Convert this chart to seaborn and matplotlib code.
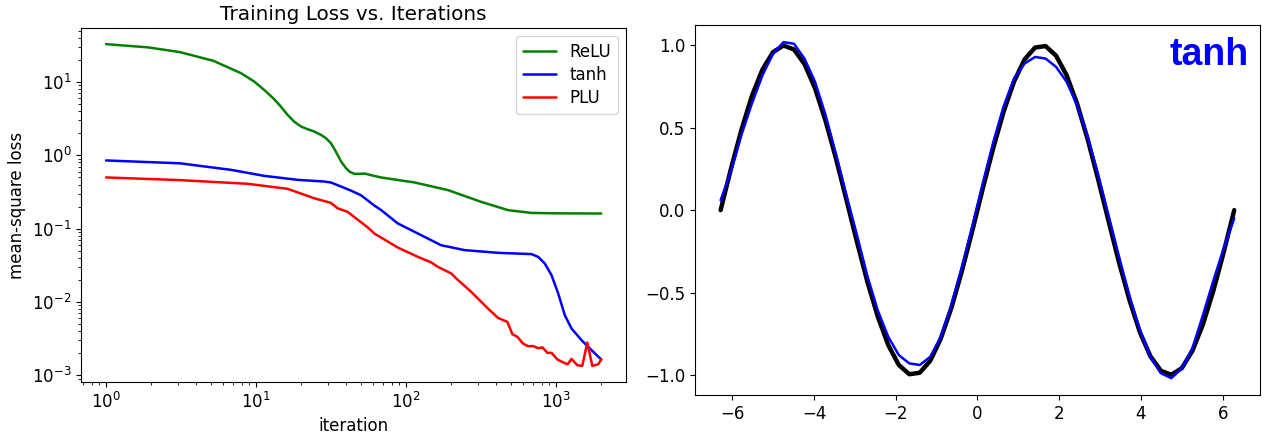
import matplotlib
matplotlib.use("Agg")
import matplotlib.pyplot as plt
from matplotlib.ticker import MultipleLocator
import seaborn as sns
import pandas as pd

# ---------------- data: training loss ----------------
relu_iter = [1, 1.9, 3.1, 5.2, 7.9, 9.7, 11.3, 13.2, 14.6, 16.2, 17.9, 19.9, 22, 24.4, 27, 29.2,
             31.5, 34, 36.8, 39.7, 42, 45.1, 49, 53, 60, 68, 114, 190, 317, 478, 685, 1000, 2000]
relu_loss = [33.0, 29.8, 25.7, 19.5, 13.3, 10.2, 7.85, 5.86, 4.65, 3.58, 2.90, 2.48, 2.28, 2.12,
             1.91, 1.72, 1.47, 1.13, 0.83, 0.67, 0.6, 0.56, 0.56, 0.565, 0.53, 0.50, 0.427, 0.336,
             0.232, 0.179, 0.164, 0.162, 0.161]

tanh_iter = [1, 3.1, 6.8, 11.3, 18.9, 28.4, 31.5, 36.8, 43, 50, 61, 68, 88, 126, 171, 245, 410, 685,
             760, 840, 932, 1033, 1143, 1267, 1479, 1726, 2000]
tanh_loss = [0.853, 0.78, 0.635, 0.526, 0.464, 0.44, 0.427, 0.376, 0.33, 0.286, 0.209, 0.18, 0.118,
             0.0815, 0.0595, 0.051, 0.0468, 0.045, 0.0412, 0.0335, 0.0232, 0.013, 0.0066, 0.00434,
             0.0030, 0.00219, 0.00164]

plu_iter = [1, 3.1, 8.75, 16.2, 24.4, 31.5, 34.9, 40.7, 46, 55.5, 61.4, 88, 120, 147, 163, 200, 216,
            272, 352, 410, 473, 511, 552, 602, 651, 703, 759, 811, 875, 932, 1021, 1104, 1192, 1267,
            1384, 1494, 1614, 1743, 1909, 2000]
plu_loss = [0.50, 0.46, 0.41, 0.35, 0.26, 0.225, 0.19, 0.17, 0.14, 0.104, 0.086, 0.0553, 0.0412,
            0.0346, 0.0301, 0.0245, 0.0209, 0.0137, 0.0081, 0.00605, 0.00535, 0.00363, 0.00334,
            0.0027, 0.00249, 0.0025, 0.00234, 0.0024, 0.00202, 0.00202, 0.00164, 0.00151, 0.00141,
            0.00167, 0.00137, 0.00134, 0.00279, 0.00134, 0.00141, 0.00164]

# ---------------- data: function fit ----------------
x_vals = [-6.283, -6.027, -5.770, -5.514, -5.257, -5.001, -4.744, -4.488, -4.232, -3.975,
          -3.719, -3.462, -3.206, -2.949, -2.693, -2.436, -2.180, -1.923, -1.667, -1.411,
          -1.154, -0.898, -0.641, -0.385, -0.128, 0.128, 0.385, 0.641, 0.898, 1.154,
          1.411, 1.667, 1.923, 2.180, 2.436, 2.693, 2.949, 3.206, 3.462, 3.719,
          3.975, 4.232, 4.488, 4.744, 5.001, 5.257, 5.514, 5.770, 6.027, 6.283]
target_y = [0.0, 0.254, 0.491, 0.696, 0.855, 0.959, 0.9995, 0.975, 0.887, 0.741,
            0.545, 0.315, 0.064, -0.191, -0.434, -0.648, -0.820, -0.940, -0.996, -0.987,
            -0.914, -0.781, -0.596, -0.374, -0.128, 0.128, 0.375, 0.598, 0.782, 0.915,
            0.987, 0.996, 0.938, 0.820, 0.648, 0.434, 0.191, -0.064, -0.315, -0.545,
            -0.741, -0.887, -0.975, -0.9995, -0.959, -0.855, -0.696, -0.491, -0.254, 0.0]
tanh_fit_y = [0.06, 0.24, 0.46, 0.65, 0.82, 0.95, 1.02, 1.01, 0.92, 0.78,
              0.58, 0.34, 0.09, -0.15, -0.40, -0.61, -0.77, -0.88, -0.93, -0.94,
              -0.89, -0.77, -0.58, -0.35, -0.10, 0.16, 0.41, 0.63, 0.80, 0.89,
              0.93, 0.92, 0.87, 0.78, 0.64, 0.45, 0.22, -0.03, -0.28, -0.52,
              -0.73, -0.89, -0.99, -1.02, -0.96, -0.84, -0.64, -0.43, -0.23, -0.05]

sns.set_style("ticks")
plt.rcParams.update({
    "font.family": ["DejaVu Sans"],
    "font.size": 12,
    "axes.edgecolor": "black",
    "axes.linewidth": 0.8,
    "xtick.color": "black",
    "ytick.color": "black",
    "xtick.major.size": 3.5, "ytick.major.size": 3.5,
    "xtick.minor.size": 2.0, "ytick.minor.size": 2.0,
    "xtick.major.width": 0.8, "ytick.major.width": 0.8,
    "xtick.minor.width": 0.6, "ytick.minor.width": 0.6,
    "xtick.labelsize": 12, "ytick.labelsize": 12,
    "axes.labelsize": 12, "axes.titlesize": 14.4,
    "legend.fontsize": 12,
    "axes.labelcolor": "black",
    "text.color": "black",
})

fig = plt.figure(figsize=(12.67, 4.4), dpi=100)
ax1 = fig.add_axes([0.0642, 0.1318, 0.4299, 0.8045])
ax2 = fig.add_axes([0.5485, 0.1023, 0.4459, 0.8402])

df_relu = pd.DataFrame({"iteration": relu_iter, "loss": relu_loss})
df_tanh = pd.DataFrame({"iteration": tanh_iter, "loss": tanh_loss})
df_plu = pd.DataFrame({"iteration": plu_iter, "loss": plu_loss})

sns.lineplot(data=df_relu, x="iteration", y="loss", color="green", lw=1.8, label="ReLU",
             estimator=None, ax=ax1)
sns.lineplot(data=df_tanh, x="iteration", y="loss", color="blue", lw=1.8, label="tanh",
             estimator=None, ax=ax1)
sns.lineplot(data=df_plu, x="iteration", y="loss", color="red", lw=1.8, label="PLU",
             estimator=None, ax=ax1)
ax1.set_xscale("log")
ax1.set_yscale("log")
ax1.set_title("Training Loss vs. Iterations")
ax1.set_xlabel("iteration")
ax1.set_ylabel("mean-square loss")
ax1.legend(loc="upper right", labelspacing=0.3)

df_fit = pd.DataFrame({"x": x_vals, "target": target_y, "fit": tanh_fit_y})
sns.lineplot(data=df_fit, x="x", y="target", color="black", lw=3.2, estimator=None, ax=ax2)
sns.lineplot(data=df_fit, x="x", y="fit", color="blue", lw=1.8, estimator=None, ax=ax2)
ax2.set_xlabel("")
ax2.set_ylabel("")
ax2.yaxis.set_major_locator(MultipleLocator(0.5))
ax2.text(0.98, 0.893, "tanh", transform=ax2.transAxes, ha="right", va="baseline",
         color="blue", fontsize=27, fontweight="bold", family=["Liberation Sans", "DejaVu Sans"])

for ax in (ax1, ax2):
    for s in ax.spines.values():
        s.set_visible(True)
        s.set_color("black")
        s.set_linewidth(0.8)

fig.savefig("out.png", dpi=100)
